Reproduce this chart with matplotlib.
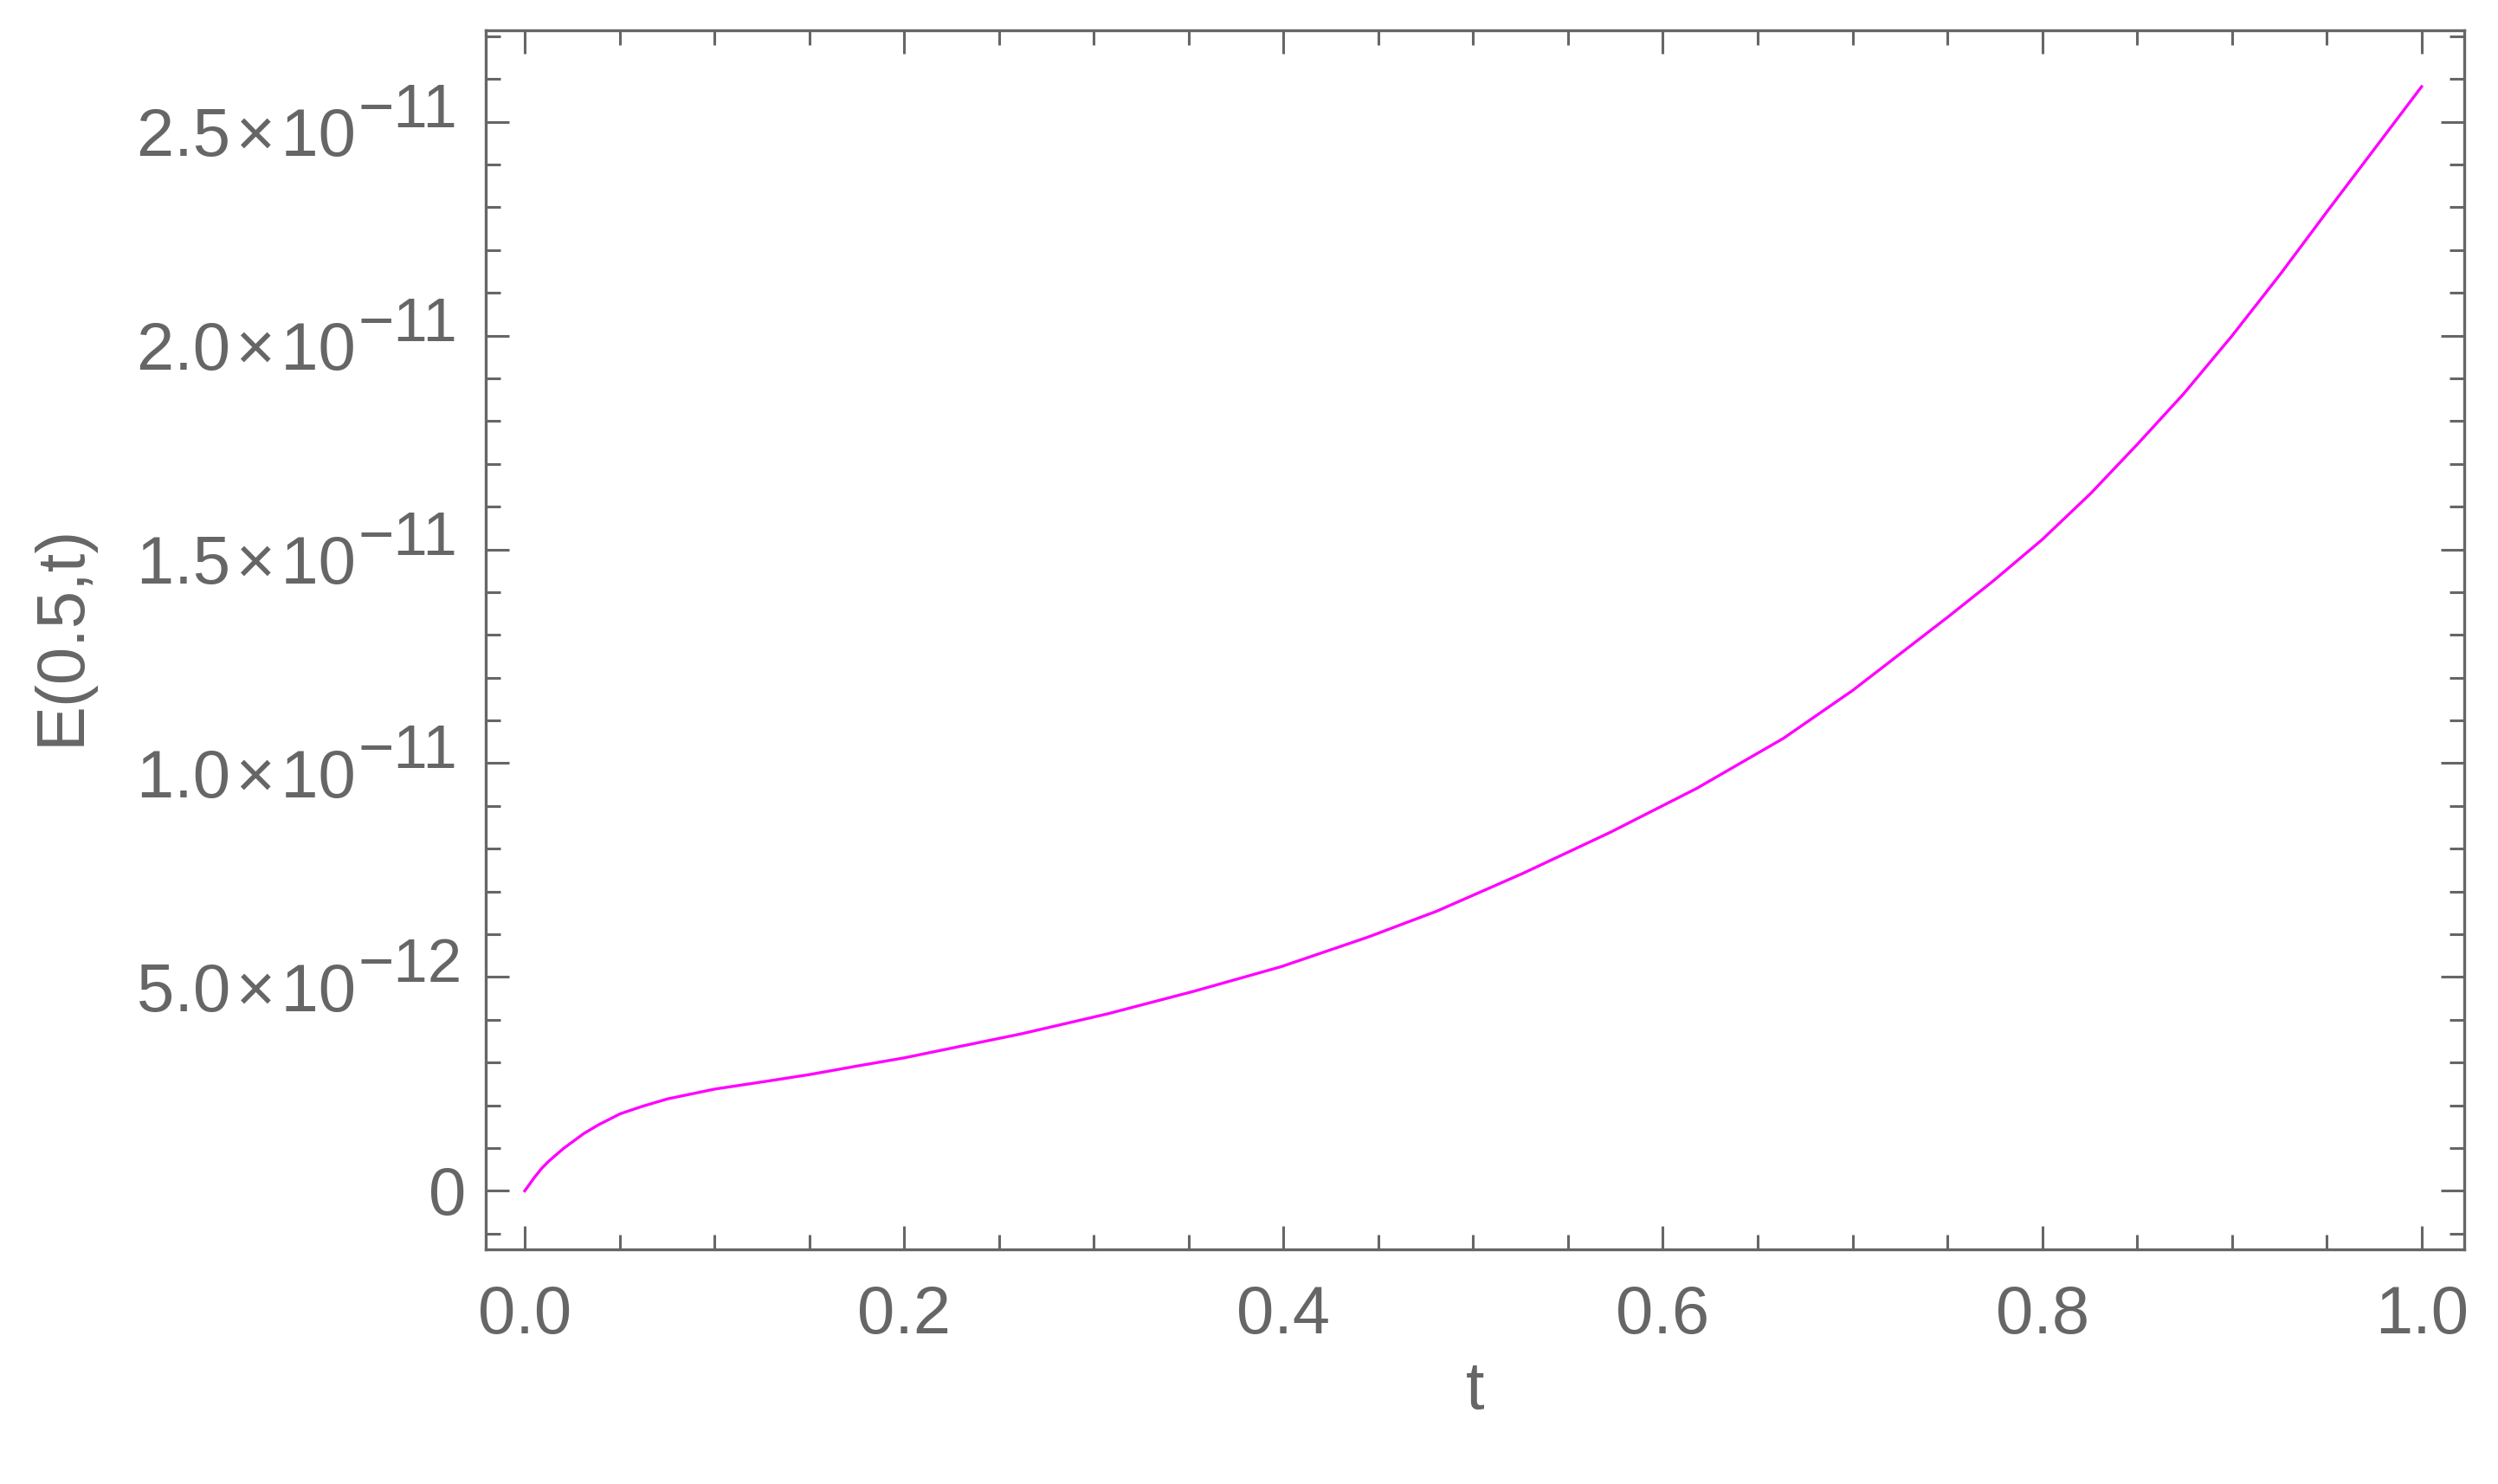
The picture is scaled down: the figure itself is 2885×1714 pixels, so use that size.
import numpy as np
import matplotlib
matplotlib.use("Agg")
import matplotlib.pyplot as plt
from matplotlib.ticker import MultipleLocator, FuncFormatter

# values (E in units of 1e-12)
t_values = [0.0, 0.0052, 0.009, 0.0128, 0.0204, 0.0311, 0.0387, 0.0502,
            0.0615, 0.0752, 0.1002, 0.1285, 0.1502, 0.1741, 0.2, 0.2616,
            0.3073, 0.353, 0.3986, 0.4443, 0.4808, 0.5265, 0.5721, 0.6178,
            0.6635, 0.7, 0.75, 0.7744, 0.8, 0.8256, 0.85, 0.8744, 0.9,
            0.9256, 0.95, 1.0]
e_values = [0.0, 0.32, 0.53, 0.70, 0.99, 1.34, 1.54, 1.80,
            1.97, 2.15, 2.38, 2.57, 2.72, 2.91, 3.11, 3.67,
            4.14, 4.67, 5.24, 5.93, 6.54, 7.43, 8.38, 9.41,
            10.58, 11.70, 13.41, 14.27, 15.23, 16.31, 17.45, 18.63, 19.99,
            21.44, 22.89, 25.82]

x_label = "t"
y_label = "E(0.5,t)"

GREY = "#666666"
FONT = ["Liberation Sans", "DejaVu Sans"]
plt.rcParams["font.family"] = FONT

fig = plt.figure(figsize=(14.425, 8.575), dpi=200)
ax = fig.add_axes([0.1945, 0.158, 0.792, 0.821])

t = np.array(t_values)
e = np.array(e_values) * 1e-12
ax.plot(t, e, color="#FF00FF", lw=1.2, solid_joinstyle="round")

ymax = e.max()
ax.set_xlim(-0.0205, 1.0225)
ax.set_ylim(-0.053 * ymax, 1.051 * ymax)

ax.xaxis.set_major_locator(MultipleLocator(0.2))
ax.xaxis.set_minor_locator(MultipleLocator(0.05))
ax.yaxis.set_major_locator(MultipleLocator(5e-12))
ax.yaxis.set_minor_locator(MultipleLocator(1e-12))
ax.xaxis.set_major_formatter(FuncFormatter(lambda v, p: "%.1f" % v))

ax.tick_params(which="both", direction="in", top=True, right=True,
               color=GREY, width=1.1, labelcolor=GREY, labelsize=28, pad=14)
ax.tick_params(axis="y", labelleft=False)
ax.tick_params(which="major", length=9.7)
ax.tick_params(which="minor", length=6.0)

for sp in ax.spines.values():
    sp.set_color(GREY)
    sp.set_linewidth(1.2)

# y tick labels in Mathematica style: mantissa x 10 with a large superscript
ytrans = ax.get_yaxis_transform()
lo, hi = ax.get_ylim()
for v in ax.yaxis.get_majorticklocs():
    if v < lo or v > hi:
        continue
    if abs(v) < 1e-20:
        ax.annotate("0", xy=(0, v), xycoords=ytrans, xytext=(-8.3, -9.7),
                    textcoords="offset points", ha="right", va="baseline",
                    fontsize=28, color=GREY)
        continue
    exp = int(np.floor(np.log10(abs(v)) + 1e-9))
    mant = v / 10 ** exp
    ax.annotate("%.1f\u200a\u00d7\u200a10" % mant, xy=(0, v), xycoords=ytrans,
                xytext=(-54, -13.7), textcoords="offset points",
                ha="right", va="baseline", fontsize=28, color=GREY)
    ax.annotate("\u2212%d" % abs(exp), xy=(0, v), xycoords=ytrans,
                xytext=(-53, -1.8), textcoords="offset points",
                ha="left", va="baseline", fontsize=25.5, color=GREY)

ax.set_xlabel(x_label, fontsize=28, color=GREY, labelpad=5)
ax.set_ylabel(y_label, fontsize=28, color=GREY)
ax.yaxis.set_label_coords(-0.1983, 0.505)

fig.savefig("out.png", dpi=200, facecolor="white")
